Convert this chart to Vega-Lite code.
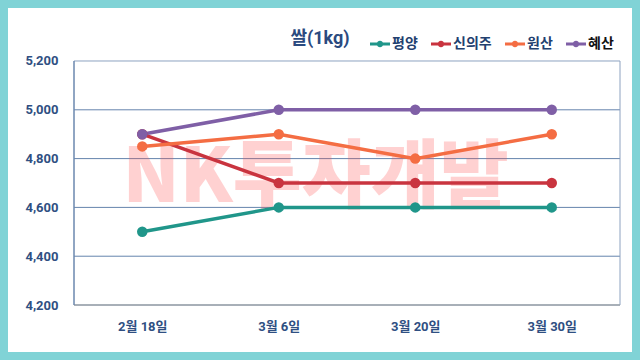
{
  "$schema": "https://vega.github.io/schema/vega-lite/v6.json",
  "width": 624,
  "height": 344,
  "padding": 8,
  "autosize": {"type": "pad"},
  "background": "#80d3d6",
  "config": {
    "view": {"fill": "white", "stroke": null},
    "font": "Roboto, 'Noto Sans CJK KR'",
    "axis": {"domain": false, "ticks": false, "grid": false, "labelFontSize": 13, "labelFontWeight": "bold", "labelColor": "#2f4f82", "labelFont": "Roboto, 'Noto Sans CJK KR'", "labelFlush": false, "labelOverlap": false}
  },
  "title": {"text": "쌀(1kg)", "offset": -54, "baseline": "alphabetic", "anchor": "middle", "frame": "group", "fontSize": 18, "fontWeight": "bold", "color": "#2b4a7f", "font": "Roboto, 'Noto Sans CJK KR'"},
  "datasets": {
    "rice": [
      {"date": "2월 18일", "order": 0, "city": "평양", "price": 4500},
      {"date": "3월 6일", "order": 1, "city": "평양", "price": 4600},
      {"date": "3월 20일", "order": 2, "city": "평양", "price": 4600},
      {"date": "3월 30일", "order": 3, "city": "평양", "price": 4600},
      {"date": "2월 18일", "order": 0, "city": "신의주", "price": 4900},
      {"date": "3월 6일", "order": 1, "city": "신의주", "price": 4700},
      {"date": "3월 20일", "order": 2, "city": "신의주", "price": 4700},
      {"date": "3월 30일", "order": 3, "city": "신의주", "price": 4700},
      {"date": "2월 18일", "order": 0, "city": "원산", "price": 4850},
      {"date": "3월 6일", "order": 1, "city": "원산", "price": 4900},
      {"date": "3월 20일", "order": 2, "city": "원산", "price": 4800},
      {"date": "3월 30일", "order": 3, "city": "원산", "price": 4900},
      {"date": "2월 18일", "order": 0, "city": "혜산", "price": 4900},
      {"date": "3월 6일", "order": 1, "city": "혜산", "price": 5000},
      {"date": "3월 20일", "order": 2, "city": "혜산", "price": 5000},
      {"date": "3월 30일", "order": 3, "city": "혜산", "price": 5000}
    ],
    "grid": [{"p": 4400}, {"p": 4600}, {"p": 4800}, {"p": 5000}]
  },
  "layer": [
    {
      "data": {"name": "grid"},
      "mark": {"type": "rule", "color": "#6584ad", "strokeWidth": 1},
      "encoding": {
        "y": {"field": "p", "type": "quantitative", "title": null, "scale": {"domain": [4007.4, 5417.2], "nice": false, "zero": false},
              "axis": {"orient": "left", "offset": -66, "values": [4200, 4400, 4600, 4800, 5000, 5200], "labelExpr": "format(datum.value, ',')", "labelPadding": 16}},
        "x": {"datum": -0.5, "type": "quantitative", "title": null, "scale": {"domain": [-0.98352, 3.58791], "nice": false, "zero": false},
              "axis": {"orient": "bottom", "offset": -47, "values": [0, 1, 2, 3], "labelExpr": "['2월 18일','3월 6일','3월 20일','3월 30일'][datum.value]", "labelPadding": 15}},
        "x2": {"datum": 3.5}
      }
    },
    {
      "data": {"values": [{}]},
      "mark": {"type": "rect", "fillOpacity": 0, "stroke": "#8da2c0", "strokeWidth": 1},
      "encoding": {
        "x": {"datum": -0.5, "type": "quantitative", "scale": {"domain": [-0.98352, 3.58791], "nice": false, "zero": false}},
        "x2": {"datum": 3.5},
        "y": {"datum": 4200, "type": "quantitative", "scale": {"domain": [4007.4, 5417.2], "nice": false, "zero": false}},
        "y2": {"datum": 5200}
      }
    },
    {
      "data": {"values": [{}]},
      "mark": {"type": "rule", "color": "#9ea4ab", "strokeWidth": 1.5},
      "encoding": {
        "x": {"datum": -0.5, "type": "quantitative", "scale": {"domain": [-0.98352, 3.58791], "nice": false, "zero": false}},
        "x2": {"datum": 3.5},
        "y": {"datum": 4200, "type": "quantitative", "scale": {"domain": [4007.4, 5417.2], "nice": false, "zero": false}}
      }
    },
    {
      "data": {"values": [{}]},
      "mark": {"type": "rule", "color": "#5a7aa6", "strokeWidth": 1},
      "encoding": {
        "x": {"datum": -0.5, "type": "quantitative", "scale": {"domain": [-0.98352, 3.58791], "nice": false, "zero": false}},
        "y": {"datum": 4200, "type": "quantitative", "scale": {"domain": [4007.4, 5417.2], "nice": false, "zero": false}},
        "y2": {"datum": 5200}
      }
    },
    {
      "data": {"values": [{}]},
      "mark": {"type": "text", "text": "NK투자개발", "font": "'Noto Sans CJK KR'", "fontSize": 75, "fontWeight": 900, "fill": "#ff4d4d", "opacity": 0.25, "align": "center", "baseline": "middle"},
      "encoding": {
        "x": {"datum": 1.27, "type": "quantitative", "scale": {"domain": [-0.98352, 3.58791], "nice": false, "zero": false}},
        "y": {"datum": 4718, "type": "quantitative", "scale": {"domain": [4007.4, 5417.2], "nice": false, "zero": false}}
      }
    },
    {
      "data": {"name": "rice"},
      "mark": {"type": "line", "strokeWidth": 3.5},
      "encoding": {
        "x": {"field": "order", "type": "quantitative", "title": null, "scale": {"domain": [-0.98352, 3.58791], "nice": false, "zero": false}},
        "y": {"field": "price", "type": "quantitative", "title": null, "scale": {"domain": [4007.4, 5417.2], "nice": false, "zero": false}},
        "color": {
          "field": "city", "type": "nominal",
          "scale": {"domain": ["평양", "신의주", "원산", "혜산"], "range": ["#20968a", "#c9343f", "#f46d43", "#7f5fa6"]},
          "legend": {
            "orient": "none", "legendX": 362, "legendY": 26, "direction": "horizontal", "title": null,
            "symbolType": "M-1,-0.15L1,-0.15L1,0.15L-1,0.15Z M-0.33,0A0.33,0.33,0,1,1,0.33,0A0.33,0.33,0,1,1,-0.33,0Z",
            "symbolSize": 400, "labelOffset": 2, "columnPadding": 13, "padding": 0,
            "labelFontSize": 14, "labelFontWeight": "bold", "labelFont": "'Noto Sans CJK KR'",
            "encode": {
              "symbols": {"update": {"fill": {"scale": "color", "field": "value"}, "strokeWidth": {"value": 0}, "opacity": {"value": 1}}},
              "labels": {"update": {"fill": {"signal": "datum.label === '혜산' ? '#111111' : '#22406f'"}}}
            }
          }
        }
      }
    },
    {
      "data": {"name": "rice"},
      "mark": {"type": "circle", "size": 110, "opacity": 1},
      "encoding": {
        "x": {"field": "order", "type": "quantitative", "scale": {"domain": [-0.98352, 3.58791], "nice": false, "zero": false}},
        "y": {"field": "price", "type": "quantitative", "scale": {"domain": [4007.4, 5417.2], "nice": false, "zero": false}},
        "color": {"field": "city", "type": "nominal", "scale": {"domain": ["평양", "신의주", "원산", "혜산"], "range": ["#20968a", "#c9343f", "#f46d43", "#7f5fa6"]}}
      }
    }
  ]
}
